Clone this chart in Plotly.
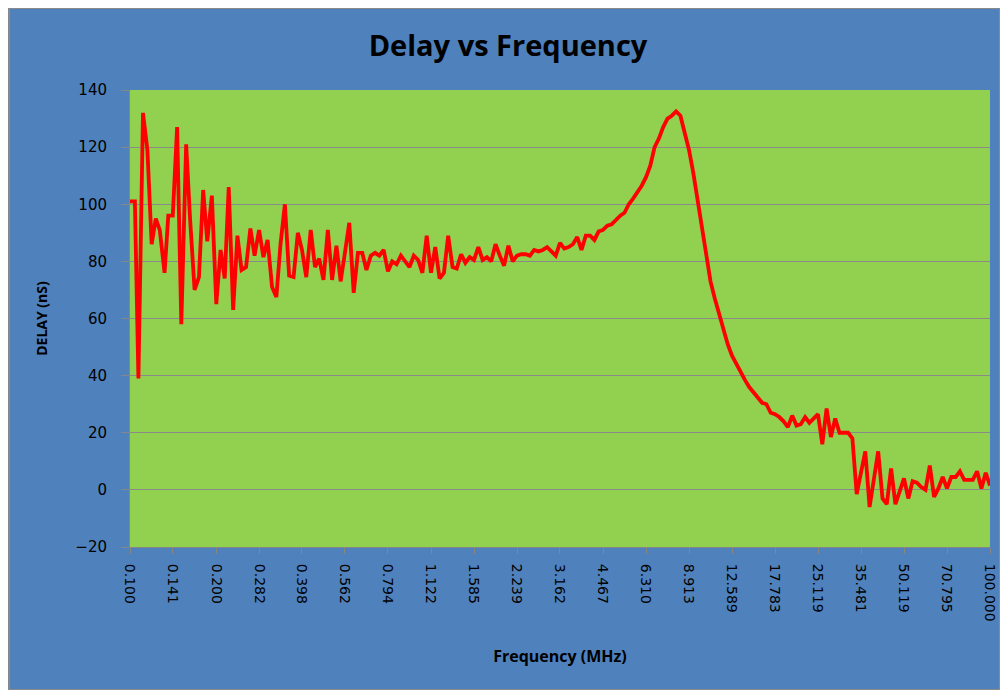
import plotly.graph_objects as go

# Frequency sweep: 201 log-spaced points from 0.1 to 100 MHz (15 mdec step)
freq_mhz = [round(0.1 * 10 ** (0.015 * i), 3) for i in range(201)]

delay_ns = [
    101, 101, 39, 132, 119, 86, 95, 91, 76, 96,
    96, 127, 58, 121, 95, 70, 74.5, 105, 87, 103,
    65, 84, 74, 106, 63, 89, 77, 78, 91.5, 82,
    91, 81.5, 87.5, 71, 67.5, 86, 100, 75, 74.5, 90,
    84, 74.5, 91, 78, 81, 73.5, 91, 73.5, 85.5, 73,
    83, 93.5, 69, 83, 83, 77, 82, 83, 82, 84,
    76.5, 80, 79, 82, 80, 78, 82, 80.5, 76, 89,
    76, 85, 74, 76, 89, 78, 77.5, 82.5, 79.5, 81.5,
    80.5, 85, 80.5, 81.5, 80, 86, 82, 78.5, 85.5, 80,
    82, 82.5, 82.5, 82, 84, 83.5, 84, 85, 83.5, 82,
    86.5, 84.5, 85, 86, 88.5, 84, 89, 89, 87.5, 90.5,
    91, 92.5, 93, 94.5, 96, 97, 100, 102, 104, 106.5,
    109.5, 113.5, 120, 123, 127, 130, 131, 132.5, 131, 125.5,
    119, 111, 101, 91, 81.5, 73, 67, 61.5, 56, 51,
    47, 44, 41, 38.5, 36, 34, 32, 30.5, 30, 27,
    26.5, 25.5, 24, 22, 26, 22.5, 23, 25.5, 23.5, 25,
    26.5, 16, 28.5, 18.5, 25, 20, 20, 20, 18, -1.5,
    6, 13.5, -6, 4, 13.5, -3, -5, 7.5, -5, -0.5,
    4, -3, 3, 2.5, 1, 0, 8.5, -2.5, 0.5, 4.5,
    0.5, 4.5, 4.5, 6.5, 3.5, 3.5, 3.5, 6.5, 0.5, 6,
    1.5,
]

tick_labels = [
    "0.100", "0.141", "0.200", "0.282", "0.398", "0.562", "0.794",
    "1.122", "1.585", "2.239", "3.162", "4.467", "6.310", "8.913",
    "12.589", "17.783", "25.119", "35.481", "50.119", "70.795", "100.000",
]
tick_vals = freq_mhz[::10]

title_text = "Delay vs Frequency"
x_title = "Frequency (MHz)"
y_title = "DELAY (nS)"

W, H = 1000, 682
ML, MR, MT, MB = 122, 10, 82, 143
pw, ph = W - ML - MR, H - MT - MB

fig = go.Figure()
fig.add_trace(go.Scatter(
    x=freq_mhz, y=delay_ns, mode="lines",
    line=dict(color="#FF0000", width=3.8),
    showlegend=False, hoverinfo="x+y",
))

# thin grey border around the whole chart area
fig.add_shape(
    type="rect", xref="paper", yref="paper",
    x0=-ML / pw, x1=1 + MR / pw, y0=-MB / ph, y1=1 + MT / ph,
    line=dict(color="#8a8a8a", width=2), fillcolor="rgba(0,0,0,0)", layer="below",
)

fig.update_layout(
    width=W, height=H,
    paper_bgcolor="#4F81BD",
    plot_bgcolor="#92D050",
    margin=dict(l=ML, r=MR, t=MT, b=MB),
    title=dict(
        text=f"<b>{title_text}</b>",
        x=0.5, xref="container", y=0.945, yref="container",
        xanchor="center", yanchor="middle",
        font=dict(family="Open Sans", size=29, color="black"),
    ),
    font=dict(family="Open Sans", color="black"),
)

fig.update_xaxes(
    type="log", range=[-1, 2],
    tickmode="array", tickvals=tick_vals, ticktext=tick_labels,
    tickangle=90,
    tickfont=dict(family="DejaVu Sans", size=14, color="black"),
    showgrid=False, zeroline=False,
    showline=True, linecolor="#868686", linewidth=1,
    ticks="outside", ticklen=6, tickcolor="#868686",
    ticklabelstandoff=7,
    title=dict(text=f"<b>{x_title}</b>", font=dict(family="Open Sans", size=16, color="black"), standoff=30),
)

fig.update_yaxes(
    range=[-20, 140], dtick=20, tick0=0,
    tickfont=dict(family="DejaVu Sans", size=15, color="black"),
    showgrid=True, gridcolor="#8a8a8a", gridwidth=1,
    zeroline=False,
    showline=True, linecolor="#868686", linewidth=1,
    ticks="outside", ticklen=8, tickcolor="#868686",
    ticklabelstandoff=11,
    title=dict(text=f"<b>{y_title}</b>", font=dict(family="Open Sans", size=14, color="black"), standoff=24),
)

fig.write_html("out.html")
